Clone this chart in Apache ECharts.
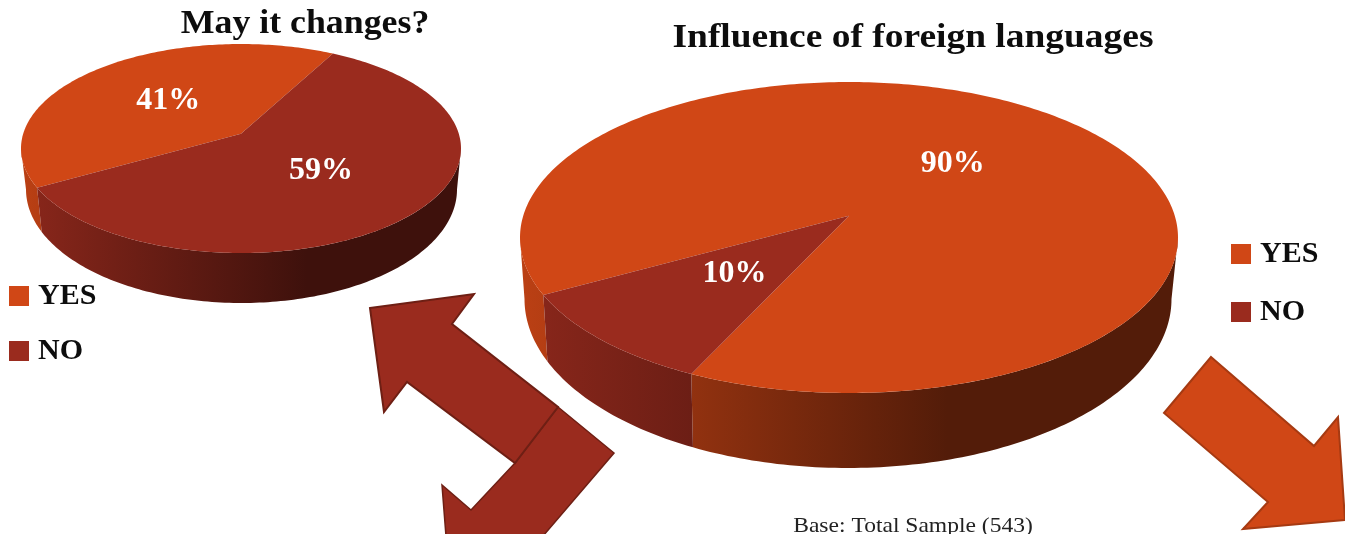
<!DOCTYPE html>
<html>
<head>
<meta charset="utf-8">
<style>html,body{margin:0;padding:0;background:#fff;overflow:hidden}#c{width:1345px;height:534px}</style>
<script src="https://cdn.jsdelivr.net/npm/echarts@6/dist/echarts.min.js"></script>
</head>
<body>
<div id="c"></div>
<script>
const categories = ['YES', 'NO'];
const yesValues = [41, 90];
const noValues = [59, 10];
const titles = ['May it changes?', 'Influence of foreign languages'];
const baseNote = 'Base: Total Sample (543)';

const FONT = '"Liberation Serif", serif';
const colors = { YES: '#D04716', NO: '#9A2B1E' };
const E = -0.14, S = Math.sqrt(1 - E * E);
const pies = [
  { start: 240.7, top: { cx: 241, cy: 148.5, rx: 220, ry: 104.5 }, bottom: { cx: 241.5, cy: 189.4, rx: 215.5, ry: 113.6 } },
  { start: 241, top: { cx: 849, cy: 237.5, rx: 329, ry: 155.5 }, bottom: { cx: 848, cy: 299, rx: 323.5, ry: 169 } }
];

function project(e, deg, r) {
  const a = deg * Math.PI / 180, X = r * Math.sin(a), Y = -r * Math.cos(a);
  const d = 1 + E * Y;
  return [e.cx + e.rx * X * S / d, e.cy + e.ry * (Y + E) / d];
}
function arc(e, from, to) {
  const pts = [], n = Math.max(2, Math.ceil(Math.abs(to - from) / 1));
  for (let i = 0; i <= n; i++) pts.push(project(e, from + (to - from) * i / n, 1));
  return pts;
}
function shade(hex, f) {
  const n = parseInt(hex.slice(1), 16);
  const c = [n >> 16, (n >> 8) & 255, n & 255].map(v => Math.round(v * f));
  return 'rgb(' + c.join(',') + ')';
}
function wallFill(base, p) {
  const l = p.top.cx - p.top.rx, w = 2 * p.top.rx;
  return new echarts.graphic.LinearGradient(l, 0, l + w, 0, [
    { offset: 0, color: shade(base, 0.9) },
    { offset: 0.65, color: shade(base, 0.4) },
    { offset: 1, color: shade(base, 0.4) }
  ], true);
}
function sliceRange(name, pieIndex) {
  const yes = yesValues[pieIndex], no = noValues[pieIndex], total = yes + no, s = pies[pieIndex].start;
  return name === 'YES'
    ? [s, s + yes / total * 360]
    : [s + yes / total * 360, s + 360];
}
const render = name => (params, api) => {
  const i = params.dataIndex, p = pies[i], base = colors[name];
  const value = api.value(0);
  const [a0, a1] = sliceRange(name, i);
  const children = [];
  const f0 = Math.acos(E) * 180 / Math.PI, f1 = 360 - f0;
  [0, 360].forEach(k => {
    const from = Math.max(a0, f0 + k), to = Math.min(a1, f1 + k);
    if (to > from) {
      const pts = arc(p.top, from, to).concat(arc(p.bottom, from, to).reverse());
      children.push({ type: 'polygon', shape: { points: pts }, style: { fill: wallFill(base, p) }, z2: 1 });
    }
  });
  const face = [project(p.top, 0, 0)].concat(arc(p.top, a0, a1));
  children.push({ type: 'polygon', shape: { points: face }, style: { fill: base }, z2: 2 });
  const lp = project(p.top, (a0 + a1) / 2, 0.49);
  children.push({
    type: 'text', z2: 3,
    style: { text: value + '%', x: lp[0], y: lp[1], fill: '#fff', font: 'bold 32px ' + FONT, align: 'center', verticalAlign: 'middle' }
  });
  return { type: 'group', children };
};
const legendBase = {
  orient: 'vertical', icon: 'rect', itemWidth: 20, itemHeight: 20, itemGap: 25, padding: 0,
  selectedMode: false, data: categories,
  textStyle: { fontFamily: FONT, fontWeight: 'bold', fontSize: 30, color: '#0d0d0d', padding: [0, 0, 0, 4] }
};
const arrowRed = { fill: '#9A2B1E', stroke: '#6E1F14', lineWidth: 2, lineJoin: 'miter' };
const arrowOrange = { fill: '#D04716', stroke: '#A63A12', lineWidth: 2, lineJoin: 'miter' };
const label = (text, x, y, scaleX, font, fill) => ({
  type: 'text', silent: true, x, y, scaleX,
  style: { text, fill, font, align: 'center', verticalAlign: 'middle' }
});

const chart = echarts.init(document.getElementById('c'), null, { renderer: 'canvas' });
chart.setOption({
  animation: false,
  backgroundColor: '#fff',
  legend: [
    Object.assign({}, legendBase, { left: 9, top: 281 }),
    Object.assign({}, legendBase, { left: 1231, top: 239, itemGap: 28 })
  ],
  series: [
    { type: 'custom', name: 'YES', coordinateSystem: 'none', data: yesValues, itemStyle: { color: colors.YES }, renderItem: render('YES'), silent: true },
    { type: 'custom', name: 'NO', coordinateSystem: 'none', data: noValues, itemStyle: { color: colors.NO }, renderItem: render('NO'), silent: true }
  ],
  graphic: [
    label(titles[0], 305, 24, 1.085, 'bold 33px ' + FONT, '#0d0d0d'),
    label(titles[1], 913, 38, 1.135, 'bold 33px ' + FONT, '#0d0d0d'),
    label(baseNote, 913, 526, 1.07, 'normal 22px ' + FONT, '#222'),
    { type: 'polygon', silent: true, shape: { points: [[558, 407], [614, 453], [543, 536], [446, 536], [442, 485], [471, 510], [515, 463]] }, style: Object.assign({}, arrowRed, { lineWidth: 1.5 }) },
    { type: 'polygon', silent: true, shape: { points: [[370, 308], [474, 294], [452, 324], [558, 407], [515, 463], [407, 382], [384, 412]] }, style: arrowRed },
    { type: 'polygon', silent: true, shape: { points: [[1211, 357], [1314, 446], [1338, 417], [1345, 520], [1243, 529], [1268, 502], [1164, 413]] }, style: arrowOrange }
  ]
});
</script>
</body>
</html>
